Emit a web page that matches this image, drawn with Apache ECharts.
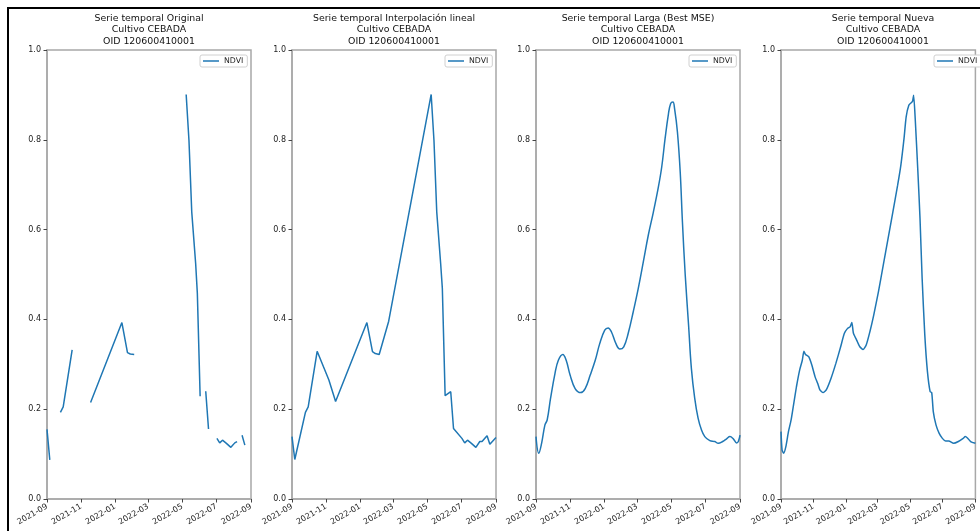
<!DOCTYPE html>
<html>
<head>
<meta charset="utf-8">
<script src="https://cdn.jsdelivr.net/npm/echarts@6/dist/echarts.min.js"></script>
<style>
html,body{margin:0;padding:0;background:#fff;}
#chart{width:980px;height:531px;}
</style>
</head>
<body>
<div id="chart"></div>
<script>
// ---- Tick labels ----
const xTicks = ['2021-09-01','2021-11-01','2022-01-01','2022-03-01','2022-05-01','2022-07-01','2022-09-01'];
const yTicks = [0, 0.2, 0.4, 0.6, 0.8, 1.0];
const titles = [
  'Serie temporal Original\nCultivo CEBADA\nOID 120600410001',
  'Serie temporal Interpolación lineal\nCultivo CEBADA\nOID 120600410001',
  'Serie temporal Larga (Best MSE)\nCultivo CEBADA\nOID 120600410001',
  'Serie temporal Nueva\nCultivo CEBADA\nOID 120600410001'
];
const seriesName = 'NDVI';

// ---- Panel 1: original (null = missing) ----
const datesOriginal = ['2021-09-01','2021-09-06','2021-09-15','2021-09-25','2021-09-30','2021-10-16','2021-10-25','2021-11-06','2021-11-12','2021-11-18','2022-01-13','2022-01-23','2022-01-28','2022-02-04','2022-02-12','2022-02-21','2022-03-01','2022-05-08','2022-05-13','2022-05-18','2022-05-25','2022-05-28','2022-06-02','2022-06-07','2022-06-12','2022-06-17','2022-06-25','2022-07-02','2022-07-07','2022-07-12','2022-07-19','2022-07-27','2022-08-03','2022-08-07','2022-08-12','2022-08-16','2022-08-21','2022-08-26','2022-09-01'];
const ndviOriginal = [0.155,0.087,null,0.193,0.205,0.332,null,0.265,null,0.215,0.393,0.326,0.323,0.322,null,0.396,null,0.901,0.799,0.639,0.524,0.458,0.229,null,0.240,0.156,null,0.135,0.125,0.131,0.124,0.115,0.125,0.128,null,0.142,0.120,null,0.137];

// ---- Panel 2: linear interpolation ----
const datesLinear = ['2021-09-01','2021-09-06','2021-09-25','2021-09-30','2021-10-16','2021-11-06','2021-11-18','2022-01-13','2022-01-23','2022-01-28','2022-02-04','2022-02-21','2022-05-08','2022-05-13','2022-05-18','2022-05-25','2022-05-28','2022-06-02','2022-06-12','2022-06-17','2022-07-02','2022-07-07','2022-07-12','2022-07-19','2022-07-27','2022-08-03','2022-08-07','2022-08-16','2022-08-21','2022-09-01'];
const ndviLinear = [0.139,0.088,0.193,0.205,0.329,0.265,0.217,0.393,0.328,0.324,0.322,0.396,0.901,0.799,0.639,0.524,0.469,0.230,0.239,0.157,0.135,0.125,0.131,0.124,0.115,0.128,0.128,0.141,0.122,0.137];

// ---- Panel 3: long series (best MSE) ----
const datesLong = ['2021-09-01','2021-09-06','2021-09-11','2021-09-17','2021-09-21','2021-09-27','2021-10-05','2021-10-11','2021-10-19','2021-10-25','2021-11-01','2021-11-10','2021-11-20','2021-11-28','2021-12-07','2021-12-16','2021-12-24','2022-01-02','2022-01-08','2022-01-14','2022-01-22','2022-01-29','2022-02-05','2022-02-13','2022-02-22','2022-03-03','2022-03-12','2022-03-21','2022-03-30','2022-04-08','2022-04-14','2022-04-20','2022-04-26','2022-04-30','2022-05-04','2022-05-07','2022-05-12','2022-05-17','2022-05-21','2022-05-26','2022-06-01','2022-06-06','2022-06-12','2022-06-18','2022-06-24','2022-06-30','2022-07-09','2022-07-18','2022-07-24','2022-08-01','2022-08-08','2022-08-14','2022-08-20','2022-08-26','2022-08-29','2022-09-01'];
const ndviLong = [0.139,0.102,0.124,0.165,0.176,0.224,0.280,0.309,0.322,0.309,0.276,0.246,0.237,0.246,0.276,0.309,0.346,0.376,0.381,0.372,0.346,0.334,0.339,0.369,0.417,0.469,0.528,0.588,0.639,0.695,0.740,0.803,0.858,0.881,0.884,0.869,0.818,0.729,0.617,0.499,0.387,0.291,0.224,0.180,0.154,0.139,0.130,0.128,0.124,0.128,0.134,0.139,0.134,0.125,0.128,0.142];

// ---- Panel 4: new series ----
const datesNew = ['2021-09-01','2021-09-03','2021-09-06','2021-09-10','2021-09-15','2021-09-20','2021-09-25','2021-09-30','2021-10-06','2021-10-11','2021-10-14','2021-10-17','2021-10-23','2021-10-29','2021-11-04','2021-11-09','2021-11-13','2021-11-19','2021-11-25','2021-12-04','2021-12-13','2021-12-22','2021-12-29','2022-01-04','2022-01-09','2022-01-12','2022-01-15','2022-01-21','2022-01-27','2022-02-02','2022-02-08','2022-02-15','2022-02-22','2022-03-03','2022-03-12','2022-03-21','2022-03-30','2022-04-08','2022-04-14','2022-04-20','2022-04-24','2022-04-29','2022-05-04','2022-05-06','2022-05-08','2022-05-11','2022-05-16','2022-05-20','2022-05-24','2022-05-29','2022-06-03','2022-06-08','2022-06-11','2022-06-14','2022-06-19','2022-06-25','2022-07-01','2022-07-07','2022-07-13','2022-07-22','2022-07-31','2022-08-09','2022-08-13','2022-08-17','2022-08-23','2022-09-01'];
const ndviNew = [0.150,0.109,0.102,0.116,0.150,0.176,0.213,0.250,0.287,0.309,0.329,0.322,0.317,0.298,0.272,0.257,0.243,0.237,0.243,0.269,0.302,0.339,0.369,0.380,0.384,0.393,0.369,0.354,0.339,0.333,0.343,0.373,0.409,0.462,0.521,0.580,0.639,0.699,0.743,0.803,0.851,0.877,0.883,0.886,0.899,0.847,0.729,0.625,0.491,0.365,0.283,0.239,0.237,0.194,0.165,0.146,0.135,0.129,0.129,0.124,0.128,0.135,0.139,0.136,0.128,0.124];

const panelDates = [datesOriginal, datesLinear, datesLong, datesNew];
const panelValues = [ndviOriginal, ndviLinear, ndviLong, ndviNew];
const panelSmooth = [false, false, 0.4, 0.2];

// ---- Layout ----
const gridLefts = [47, 292, 536, 781];
const gridTop = 50, gridW = 204, gridH = 449;
const FONT = 'DejaVu Sans';
const LINE = '#1f77b4';
const SPINE = '#a8a8a8';
const ts = d => new Date(d + 'T00:00:00Z').getTime();
const tickTs = xTicks.map(ts);
const xMin = tickTs[0], xMax = tickTs[tickTs.length - 1];
const fmtMonth = v => { const d = new Date(v); return d.getUTCFullYear() + '-' + String(d.getUTCMonth() + 1).padStart(2, '0'); };

const grids = [], xAxes = [], yAxes = [], series = [], legends = [], graphics = [];
for (let i = 0; i < 4; i++) {
  grids.push({left: gridLefts[i], top: gridTop, width: gridW, height: gridH,
    show: true, borderColor: SPINE, borderWidth: 1.5, backgroundColor: 'transparent', containLabel: false});
  xAxes.push({type: 'value', gridIndex: i, min: xMin, max: xMax, scale: true,
    axisLine: {show: true, onZero: false, lineStyle: {color: SPINE, width: 1.5}},
    axisTick: {show: true, length: 3.5, customValues: tickTs, lineStyle: {color: '#444', width: 1}},
    axisLabel: {customValues: tickTs, rotate: 30, margin: 7, fontFamily: FONT, fontSize: 8, color: '#222',
      formatter: fmtMonth, hideOverlap: false},
    splitLine: {show: false}});
  yAxes.push({type: 'value', gridIndex: i, min: 0, max: 1, interval: 0.2,
    axisLine: {show: true, lineStyle: {color: SPINE, width: 1.5}},
    axisTick: {show: true, length: 3.5, lineStyle: {color: '#444', width: 1}},
    axisLabel: {margin: 6, fontFamily: FONT, fontSize: 8, color: '#222', formatter: v => v.toFixed(1)},
    splitLine: {show: false}});
  const d = panelDates[i], v = panelValues[i];
  series.push({type: 'line', name: seriesName, xAxisIndex: i, yAxisIndex: i,
    data: d.map((dt, k) => [ts(dt), v[k] === null ? '-' : v[k]]),
    showSymbol: false, symbol: 'none', connectNulls: false, smooth: panelSmooth[i],
    lineStyle: {color: LINE, width: 1.5}, itemStyle: {color: LINE}, animation: false, clip: true});
  legends.push({data: [seriesName], left: gridLefts[i] + gridW - 51, top: 55, orient: 'horizontal',
    icon: 'rect', itemWidth: 16, itemHeight: 1.5, padding: [2, 4, 2, 3],
    backgroundColor: '#fff', borderColor: '#d0d0d0', borderWidth: 1, borderRadius: 2,
    textStyle: {fontFamily: FONT, fontSize: 7.8, color: '#222'}, selectedMode: false,
    itemStyle: {color: LINE}});
  graphics.push({type: 'text', x: gridLefts[i] + gridW / 2, y: 12.5,
    style: {text: titles[i], align: 'center', verticalAlign: 'top', fontFamily: FONT, fontSize: 9.4,
      lineHeight: 11.7, fill: '#111'}});
}
graphics.push({type: 'rect', shape: {x: 8, y: 8, width: 1200, height: 1200},
  style: {fill: 'none', stroke: '#000', lineWidth: 2}, silent: true});

const chart = echarts.init(document.getElementById('chart'), null, {renderer: 'canvas'});
chart.setOption({
  animation: false,
  backgroundColor: '#fff',
  grid: grids, xAxis: xAxes, yAxis: yAxes, series: series, legend: legends, graphic: graphics
});
</script>
</body>
</html>
